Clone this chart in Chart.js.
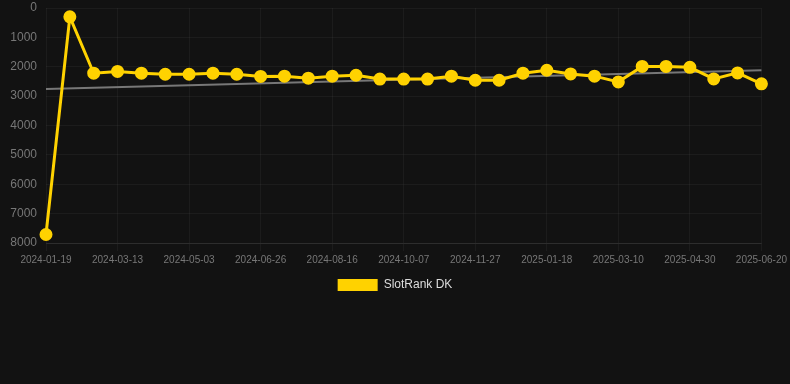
<!DOCTYPE html>
<html>
<head>
<meta charset="utf-8">
<script src="https://cdn.jsdelivr.net/npm/chart.js@4/dist/chart.umd.min.js"></script>
<style>
  html, body { margin: 0; padding: 0; background: #121212; }
  #wrap { position: relative; width: 790px; height: 301px; }
</style>
</head>
<body>
<div id="wrap"><canvas id="c"></canvas></div>
<script>
const dates = [
  "2024-01-19","2024-02-06","2024-02-24","2024-03-13","2024-03-30","2024-04-16",
  "2024-05-03","2024-05-21","2024-06-08","2024-06-26","2024-07-13","2024-07-30",
  "2024-08-16","2024-09-02","2024-09-20","2024-10-07","2024-10-24","2024-11-10",
  "2024-11-27","2024-12-14","2024-12-31","2025-01-18","2025-02-04","2025-02-21",
  "2025-03-10","2025-03-27","2025-04-13","2025-04-30","2025-05-17","2025-06-03",
  "2025-06-20"
];
const slotRankDK = [
  7710, 300, 2220, 2160, 2220, 2255, 2255, 2220, 2255, 2330, 2320, 2390,
  2320, 2290, 2420, 2420, 2420, 2320, 2460, 2460, 2220, 2120, 2245, 2320,
  2515, 1990, 1990, 2020, 2415, 2210, 2580
];
const trendStart = 2760;
const trendEnd = 2120;
const trend = dates.map((d, i) => i === 0 ? trendStart : (i === dates.length - 1 ? trendEnd : null));
const yTicks = [0, 1000, 2000, 3000, 4000, 5000, 6000, 7000, 8000];

Chart.defaults.font.family = "'Liberation Sans', Arial, sans-serif";

new Chart(document.getElementById('c'), {
  type: 'line',
  data: {
    labels: dates,
    datasets: [
      {
        label: 'SlotRank DK',
        data: slotRankDK,
        borderColor: '#FFD200',
        backgroundColor: '#FFD200',
        borderWidth: 3,
        pointRadius: 5,
        pointHoverRadius: 5,
        pointBackgroundColor: '#FFD200',
        pointBorderColor: '#FFD200',
        tension: 0,
        order: 1
      },
      {
        label: 'trend',
        data: trend,
        spanGaps: true,
        borderColor: '#777777',
        borderWidth: 2,
        pointRadius: 0,
        fill: false,
        order: 2
      }
    ]
  },
  options: {
    responsive: true,
    maintainAspectRatio: false,
    animation: false,
    plugins: {
      legend: {
        position: 'bottom',
        labels: {
          color: '#dddddd',
          font: { size: 12 },
          boxWidth: 40,
          boxHeight: 12,
          filter: (item) => item.text !== 'trend',
          generateLabels: (chart) => {
            const items = Chart.defaults.plugins.legend.labels.generateLabels(chart);
            items.forEach(it => { it.lineWidth = 0; it.strokeStyle = 'rgba(0,0,0,0)'; });
            return items;
          }
        }
      },
      tooltip: { enabled: false }
    },
    scales: {
      x: {
        grid: { color: 'rgba(255,255,255,0.045)', tickLength: 8 },
        border: { color: 'rgba(255,255,255,0.08)' },
        ticks: {
          color: '#777777',
          font: { size: 10 },
          padding: 3,
          maxRotation: 0,
          autoSkip: true,
          callback: function(v, i) { return i % 3 === 0 ? dates[i] : null; }
        }
      },
      y: {
        reverse: true,
        min: 0,
        max: 8000,
        grid: { color: 'rgba(255,255,255,0.045)', drawTicks: true, tickLength: 9, tickColor: 'rgba(0,0,0,0)' },
        border: { display: false },
        afterBuildTicks: (axis) => { axis.ticks = yTicks.map(v => ({ value: v })); },
        afterFit: (axis) => { axis.width = 46; },
        ticks: {
          color: '#777777',
          padding: 0,
          font: { size: 12, lineHeight: 1 },
          callback: (v) => String(v)
        }
      }
    }
  }
});
</script>
</body>
</html>
